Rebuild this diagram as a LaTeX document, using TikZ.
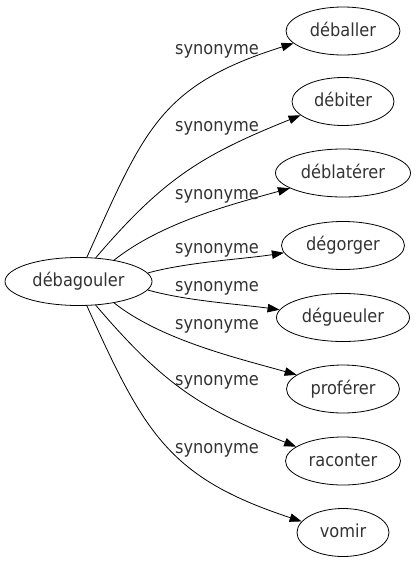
\documentclass[tikz,border=0pt]{standalone}
\usepackage{fontspec}
\setmainfont{DejaVu Sans Condensed}
\usetikzlibrary{shapes.geometric,arrows.meta}
\begin{document}
\begin{tikzpicture}[x=1pt,y=-1pt]
\tikzset{
  word/.style={ellipse, draw=black, text=black!80, line width=0.8pt, inner sep=0pt, minimum height=48pt,
    font=\fontsize{18}{20}\selectfont, text height=13pt, text depth=3pt},
  rel/.style={-{Triangle[length=12pt,width=8.5pt]}, line width=0.8pt},
  syn/.style={font=\fontsize{18}{20}\selectfont, text=black!80, anchor=base, inner sep=0pt}
}
\useasboundingbox (0,0) rectangle (417,563);
\node[word, minimum width=147pt] (src) at (78.5,281.5) {débagouler};
\node[word, minimum width=114pt] (n1) at (343,31) {déballer};
\node[word, minimum width=102pt] (n2) at (343,101.5) {débiter};
\node[word, minimum width=135pt] (n3) at (343,173) {déblatérer};
\node[word, minimum width=123pt] (n4) at (343,245.5) {dégorger};
\node[word, minimum width=133pt] (n5) at (343,317.5) {dégueuler};
\node[word, minimum width=113pt] (n6) at (343,389) {proférer};
\node[word, minimum width=115pt] (n7) at (343,461) {raconter};
\node[word, minimum width=92pt] (n8) at (343,532.5) {vomir};

\draw[rel] (src.71.5) .. controls (144.5,129.7) and (159.6,85.3) .. (n1.194);
\draw[rel] (src.54) .. controls (164,178) and (202,155) .. (n2.198.8);
\draw[rel] (src.31) .. controls (161,223) and (229,205) .. (n3.196);
\draw[rel] (src.7) .. controls (187,262) and (245,259) .. (n4.187);
\draw[rel] (src.-7) .. controls (187,301) and (238,304) .. (n5.173);
\draw[rel] (src.-31) .. controls (161,340) and (237,358) .. (n6.163.7);
\draw[rel] (src.-54) .. controls (164,385) and (200,408) .. (n7.163);
\draw[rel] (src.-71.5) .. controls (144.5,433.3) and (168.6,477.7) .. (n8.165);

\node[syn] (l1) at (217,54) {synonyme};
\node[syn] (l2) at (217,131) {synonyme};
\node[syn] (l3) at (217,199) {synonyme};
\node[syn] (l4) at (217,253) {synonyme};
\node[syn] (l5) at (217,291) {synonyme};
\node[syn] (l6) at (217,329) {synonyme};
\node[syn] (l7) at (217,385) {synonyme};
\node[syn] (l8) at (217,453) {synonyme};
\end{tikzpicture}
\end{document}
